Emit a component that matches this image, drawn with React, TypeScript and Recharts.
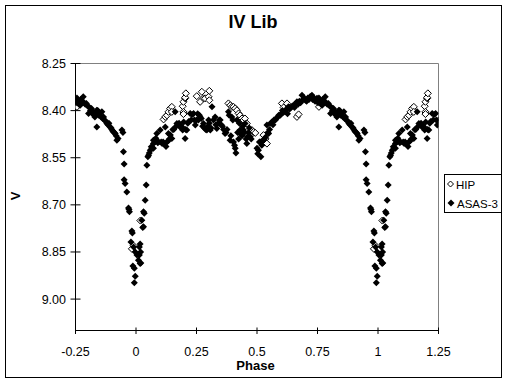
import { ReferenceLine, Scatter, ScatterChart, XAxis, YAxis } from "recharts";

// base phase in [0,1), V magnitude
const asasBase: [number, number][] = [
  [0.004, 8.86], [0.010, 8.876], [0.014, 8.834], [0.014, 8.86], [0.017, 8.825], [0.017, 8.887],
  [0.020, 8.885], [0.019, 8.85], [0.024, 8.749], [0.028, 8.772], [0.031, 8.722], [0.031, 8.77],
  [0.034, 8.727], [0.038, 8.685], [0.042, 8.637], [0.045, 8.574], [0.049, 8.547], [0.052, 8.542],
  [0.055, 8.535], [0.059, 8.526], [0.063, 8.515], [0.066, 8.52], [0.072, 8.505], [0.072, 8.494],
  [0.072, 8.52], [0.078, 8.5], [0.082, 8.488], [0.086, 8.473], [0.09, 8.502], [0.094, 8.5],
  [0.1, 8.462], [0.104, 8.5], [0.108, 8.505], [0.112, 8.5], [0.116, 8.505], [0.121, 8.452],
  [0.124, 8.514], [0.128, 8.5], [0.134, 8.473], [0.134, 8.495], [0.138, 8.49], [0.142, 8.478],
  [0.148, 8.489], [0.152, 8.46], [0.156, 8.46], [0.162, 8.404], [0.166, 8.45], [0.169, 8.441],
  [0.174, 8.446], [0.178, 8.44], [0.182, 8.452], [0.186, 8.45], [0.19, 8.452], [0.193, 8.462],
  [0.197, 8.436], [0.203, 8.489], [0.205, 8.46], [0.21, 8.462], [0.214, 8.44], [0.218, 8.435],
  [0.224, 8.409], [0.228, 8.43], [0.232, 8.412], [0.238, 8.409], [0.241, 8.43], [0.245, 8.446],
  [0.25, 8.43], [0.255, 8.41], [0.258, 8.43], [0.262, 8.415], [0.265, 8.42], [0.27, 8.425],
  [0.275, 8.45], [0.279, 8.441], [0.283, 8.455], [0.288, 8.46], [0.293, 8.462], [0.297, 8.45],
  [0.3, 8.43], [0.303, 8.44], [0.307, 8.462], [0.31, 8.455], [0.314, 8.388], [0.32, 8.43],
  [0.327, 8.42], [0.33, 8.445], [0.334, 8.457], [0.34, 8.44], [0.344, 8.43], [0.348, 8.43],
  [0.352, 8.445], [0.357, 8.45], [0.362, 8.46], [0.368, 8.473], [0.372, 8.47], [0.376, 8.46],
  [0.382, 8.404], [0.385, 8.415], [0.389, 8.494], [0.392, 8.48], [0.396, 8.42], [0.4, 8.43],
  [0.403, 8.5], [0.407, 8.51], [0.41, 8.52], [0.413, 8.535], [0.417, 8.43], [0.42, 8.47],
  [0.424, 8.49], [0.427, 8.44], [0.43, 8.462], [0.434, 8.475], [0.438, 8.48], [0.441, 8.45],
  [0.444, 8.462], [0.448, 8.47], [0.451, 8.441], [0.455, 8.49], [0.458, 8.505], [0.461, 8.483],
  [0.465, 8.47], [0.468, 8.455], [0.472, 8.483], [0.476, 8.49],
  [0.5, 8.52], [0.503, 8.537], [0.506, 8.526], [0.51, 8.5], [0.513, 8.5], [0.516, 8.547],
  [0.52, 8.51], [0.525, 8.495], [0.53, 8.49], [0.535, 8.485], [0.541, 8.446], [0.545, 8.47],
  [0.548, 8.473], [0.552, 8.46], [0.556, 8.44], [0.562, 8.436], [0.566, 8.445], [0.57, 8.43],
  [0.576, 8.43], [0.58, 8.425], [0.585, 8.42], [0.59, 8.415], [0.596, 8.415], [0.6, 8.41],
  [0.605, 8.4], [0.61, 8.405], [0.617, 8.404], [0.622, 8.395], [0.626, 8.41], [0.63, 8.388],
  [0.635, 8.395], [0.64, 8.39], [0.646, 8.385], [0.651, 8.383], [0.655, 8.39], [0.66, 8.38],
  [0.665, 8.372], [0.67, 8.38], [0.675, 8.37], [0.68, 8.375], [0.686, 8.351], [0.69, 8.365],
  [0.695, 8.36], [0.7, 8.367], [0.705, 8.37], [0.71, 8.36], [0.715, 8.365], [0.72, 8.355],
  [0.727, 8.351], [0.73, 8.365], [0.735, 8.36], [0.74, 8.37], [0.745, 8.365], [0.748, 8.361],
  [0.752, 8.375], [0.756, 8.36], [0.76, 8.37], [0.765, 8.38], [0.769, 8.383], [0.772, 8.365],
  [0.777, 8.37], [0.782, 8.356], [0.786, 8.375], [0.79, 8.38], [0.795, 8.377], [0.8, 8.385],
  [0.804, 8.409], [0.808, 8.39], [0.812, 8.4], [0.816, 8.393], [0.82, 8.41], [0.825, 8.405],
  [0.83, 8.42], [0.834, 8.41], [0.838, 8.399], [0.838, 8.452], [0.842, 8.4], [0.846, 8.415],
  [0.85, 8.41], [0.852, 8.409], [0.856, 8.42], [0.859, 8.404], [0.862, 8.425], [0.866, 8.42],
  [0.87, 8.43], [0.875, 8.435], [0.88, 8.441], [0.884, 8.445], [0.888, 8.44], [0.893, 8.452],
  [0.897, 8.455], [0.9, 8.46], [0.904, 8.465], [0.907, 8.468], [0.91, 8.47], [0.914, 8.473],
  [0.918, 8.48], [0.921, 8.494], [0.926, 8.489], [0.942, 8.462], [0.946, 8.47], [0.948, 8.531],
  [0.951, 8.57], [0.951, 8.62], [0.955, 8.632], [0.962, 8.659], [0.969, 8.71], [0.971, 8.715],
  [0.973, 8.722], [0.983, 8.783], [0.979, 8.818], [0.985, 8.79], [0.99, 8.834], [0.997, 8.85],
  [0.987, 8.895], [0.993, 8.902], [0.997, 8.927], [0.993, 8.948],
];

const hipBase: [number, number][] = [
  [0.114, 8.428], [0.121, 8.42], [0.128, 8.415], [0.134, 8.404], [0.141, 8.393], [0.148, 8.388],
  [0.148, 8.404], [0.193, 8.386], [0.196, 8.372], [0.196, 8.404], [0.196, 8.411], [0.203, 8.361],
  [0.203, 8.358], [0.206, 8.345], [0.251, 8.354], [0.265, 8.372], [0.272, 8.34], [0.279, 8.361],
  [0.286, 8.361], [0.3, 8.356], [0.303, 8.337], [0.303, 8.367], [0.382, 8.377], [0.39, 8.383],
  [0.396, 8.388], [0.403, 8.388], [0.41, 8.393], [0.417, 8.399], [0.424, 8.409], [0.43, 8.415],
  [0.438, 8.425], [0.444, 8.43], [0.45, 8.425], [0.458, 8.441], [0.479, 8.462], [0.486, 8.468],
  [0.493, 8.471], [0.527, 8.478], [0.535, 8.49], [0.541, 8.505], [0.603, 8.377], [0.61, 8.39],
  [0.624, 8.377], [0.665, 8.42], [0.672, 8.412], [0.756, 8.388], [0.77, 8.38], [0.983, 8.84],
  [0.99, 8.83], [0.018, 8.75],
];

const xTicks = [-0.25, 0, 0.25, 0.5, 0.75, 1, 1.25];
const yTicks = [8.25, 8.4, 8.55, 8.7, 8.85, 9.0];

// the plot repeats a quarter cycle on each side, like the original sheet
function fold(points: [number, number][]) {
  const out: { phase: number; v: number }[] = [];
  for (const [p, v] of points) {
    out.push({ phase: p, v });
    if (p >= 0.75) out.push({ phase: p - 1, v });
    if (p <= 0.25) out.push({ phase: p + 1, v });
  }
  return out;
}

const hipData = fold(hipBase);
const asasData = fold(asasBase);

const font = "Arial, 'Liberation Sans', sans-serif";

const FilledDiamond = (props: any) => {
  const { cx, cy } = props;
  const r = 3.5;
  return <path d={`M${cx},${cy - r}L${cx + r},${cy}L${cx},${cy + r}L${cx - r},${cy}Z`} fill="#000" />;
};

const OpenDiamond = (props: any) => {
  const { cx, cy } = props;
  const r = 3.5;
  return (
    <path
      d={`M${cx},${cy - r}L${cx + r},${cy}L${cx},${cy + r}L${cx - r},${cy}Z`}
      fill="#fff"
      stroke="#000"
      strokeWidth={1}
    />
  );
};

const YTick = (props: any) => {
  const { y, payload } = props;
  return (
    <g>
      <line x1={70.5} x2={80.5} y1={y} y2={y} stroke="#000" />
      <text x={66} y={y} dy={4.5} textAnchor="end" fontFamily={font} fontSize={12.5} fill="#000">
        {Number(payload.value).toFixed(2)}
      </text>
    </g>
  );
};

const XTick = (props: any) => {
  const { x, payload } = props;
  return (
    <g>
      <line x1={x} x2={x} y1={327.5} y2={334} stroke="#000" />
      <text x={x} y={355.5} textAnchor="middle" fontFamily={font} fontSize={12.5} fill="#000">
        {String(payload.value)}
      </text>
    </g>
  );
};

export default function App() {
  return (
    <div style={{ position: "absolute", left: 0, top: 0, width: 507, height: 384, background: "#fff" }}>
      <ScatterChart width={507} height={384} margin={{ top: 63.5, right: 68.5, bottom: 23.5, left: 15.5 }}>
        <XAxis
          type="number"
          dataKey="phase"
          domain={[-0.25, 1.25]}
          ticks={xTicks}
          allowDataOverflow
          height={30}
          stroke="#000"
          tickLine={false}
          tick={<XTick />}
        />
        <YAxis
          type="number"
          dataKey="v"
          domain={[8.25, 9.1]}
          ticks={yTicks}
          reversed
          allowDataOverflow
          width={60}
          stroke="#000"
          tickLine={false}
          tick={<YTick />}
        />
        <ReferenceLine y={8.25} stroke="#808080" />
        <ReferenceLine x={1.25} stroke="#808080" />
        <Scatter name="HIP" data={hipData} shape={<OpenDiamond />} isAnimationActive={false} />
        <Scatter name="ASAS-3" data={asasData} shape={<FilledDiamond />} isAnimationActive={false} />
      </ScatterChart>
      <svg
        width={507}
        height={384}
        style={{ position: "absolute", left: 0, top: 0, pointerEvents: "none" }}
      >
        <rect x={5.5} y={5.5} width={496} height={372} fill="none" stroke="#000" />
        <text x={253} y={28} textAnchor="middle" fontFamily={font} fontSize={18} fontWeight="bold">
          IV Lib
        </text>
        <text
          x={20}
          y={196}
          transform="rotate(-90 20 196)"
          textAnchor="middle"
          fontFamily={font}
          fontSize={13}
          fontWeight="bold"
        >
          V
        </text>
        <text x={255.5} y={370} textAnchor="middle" fontFamily={font} fontSize={13} fontWeight="bold">
          Phase
        </text>
        <rect x={444.5} y={174.5} width={57} height={38} fill="#fff" stroke="#000" />
        <path d="M450.5,181L453.5,184L450.5,187L447.5,184Z" fill="#fff" stroke="#000" />
        <text x={456} y={188.5} fontFamily={font} fontSize={11.5}>
          HIP
        </text>
        <path d="M451,199.5L454.5,203L451,206.5L447.5,203Z" fill="#000" />
        <text x={457} y={207.5} fontFamily={font} fontSize={11.5}>
          ASAS-3
        </text>
      </svg>
    </div>
  );
}
